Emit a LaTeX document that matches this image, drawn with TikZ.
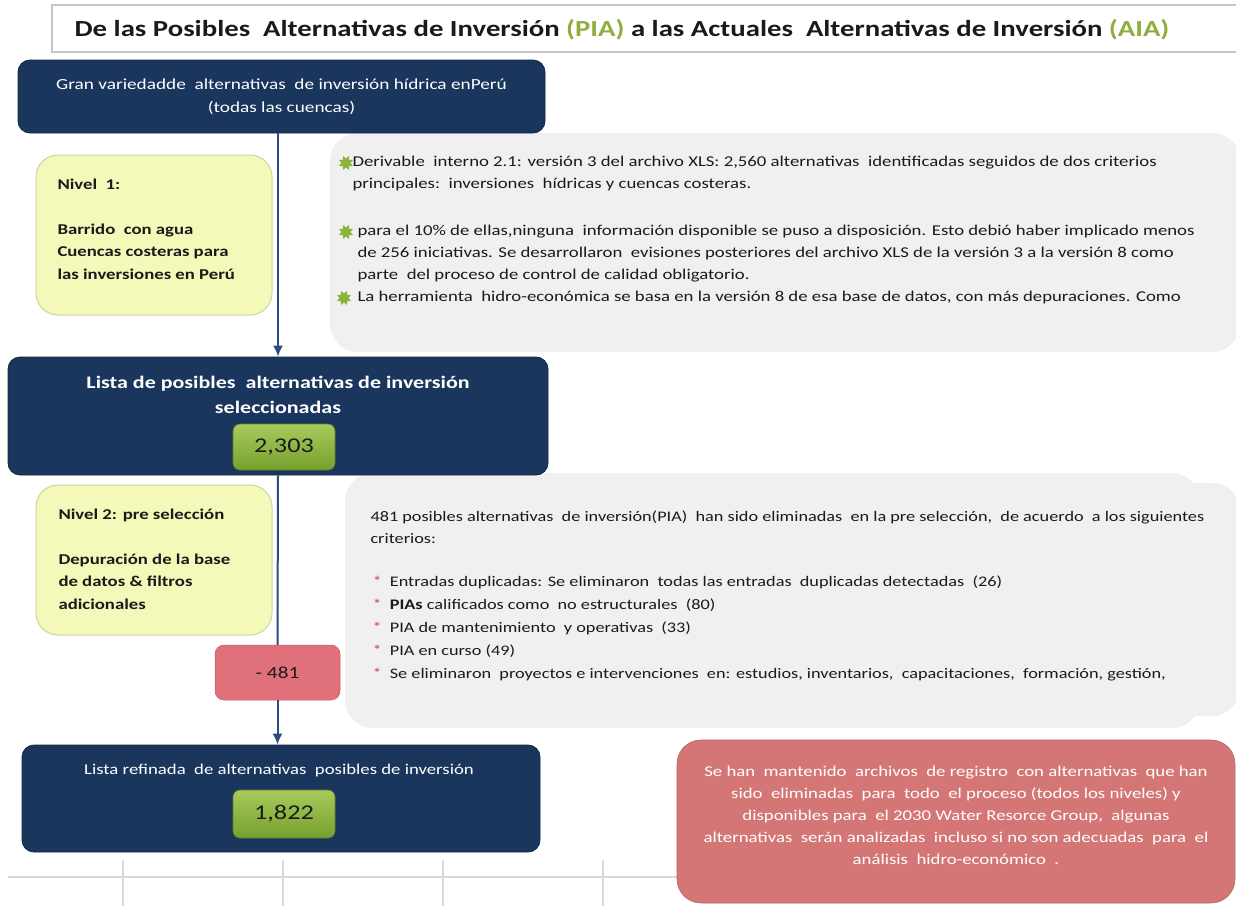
\documentclass[tikz,border=0pt]{standalone}
\usepackage{fontspec}
\setmainfont{Carlito}[FakeStretch=1.25]
\usetikzlibrary{positioning,shapes.geometric,arrows,arrows.meta}

\definecolor{navy}{HTML}{1B365D}
\definecolor{flechaazul}{HTML}{2B4D7E}
\definecolor{amarillo}{HTML}{F4F8B8}
\definecolor{bordeamarillo}{HTML}{CDD6A0}
\definecolor{gris}{HTML}{F0F0F0}
\definecolor{verdetop}{HTML}{A8CB5C}
\definecolor{verdebot}{HTML}{76A02E}
\definecolor{rojo}{HTML}{E0717B}
\definecolor{rojonota}{HTML}{D47676}
\definecolor{verdetitulo}{HTML}{8FAE3E}
\definecolor{texto}{HTML}{1A1A1A}
\definecolor{rejilla}{HTML}{D9D9D9}
\definecolor{vinetaverde}{HTML}{8DB33F}
\definecolor{asterisco}{HTML}{D9404E}

\begin{document}
\begin{tikzpicture}[x=1pt,y=-1pt,line width=1pt,>={Latex[length=11pt,width=10pt]},
  navybox/.style={draw=navy!70!black,line width=0.8pt,fill=navy,rounded corners=12pt,inner sep=0pt,text=white},
  nivel/.style={draw=bordeamarillo,fill=amarillo,rounded corners=22pt,inner sep=0pt,minimum width=236,minimum height=#1},
  nota/.style={fill=gris,rounded corners=28pt,inner sep=0pt},
  cifra/.style={draw=verdebot!80!black,line width=0.6pt,top color=verdetop,bottom color=verdebot,rounded corners=7pt,inner sep=0pt,text=texto,minimum width=102,font=\fontsize{21}{24}\selectfont},
  parrafo/.style={anchor=north west,inner sep=0pt,align=left,text=texto,font=\fontsize{15}{22}\selectfont},
  nivtxt/.style={anchor=north west,inner sep=0pt,align=left,text=texto,font=\bfseries\fontsize{15}{22.5}\selectfont},
  vineta/.style={star,star points=8,star point ratio=0.6,fill=vinetaverde,inner sep=0pt,minimum size=9pt},
  flecha/.style={draw=flechaazul,line width=2pt},
  rejillaln/.style={draw=rejilla,line width=1.2pt}]
\useasboundingbox (0,0) rectangle (1236,906);
\fill[white] (0,0) rectangle (1236,906);

% rejilla del fondo
\coordinate (r0) at (8,877);
\coordinate (r1) at (690,877);
\draw[rejillaln] (r0) -- (r1);
\draw[rejillaln] (123,860) -- (123,906);
\draw[rejillaln] (283,860) -- (283,906);
\draw[rejillaln] (443,860) -- (443,906);
\draw[rejillaln] (603,860) -- (603,906);

% titulo
\node[draw=gray!45,line width=1.5pt,fill=white,minimum width=1193,minimum height=47,inner sep=0pt] (titulo) at (648.5,28.5) {};
\node[font=\bfseries\fontsize{23}{28}\selectfont,text=texto] (titulotxt) at (622,30)
  {De las Posibles\ \ Alternativas de Inversión {\color{verdetitulo}(PIA)} a las Actuales\ \ Alternativas de Inversión {\color{verdetitulo}(AIA)}};

% notas grises
\node[nota,minimum width=910,minimum height=219] (nota1) at (785,242.5) {};
\node[nota,minimum width=855,minimum height=255] (nota2a) at (772.5,600.5) {};
\node[nota,minimum width=880,minimum height=233] (nota2b) at (800,599.5) {};

\node[vineta] (v1) at (346,163) {};
\node[vineta] (v2) at (346,232) {};
\node[vineta] (v3) at (344,298) {};
\node[parrafo] (p1) at (352,156) {Derivable\ \ interno 2.1: versión 3 del archivo XLS: 2,560 alternativas\ \ identificadas seguidos de dos criterios\\
  principales:\ \ inversiones\ \ hídricas y cuencas costeras.};
\node[parrafo] (p2) at (357,225) {para el 10\% de ellas,ninguna\ \ información disponible se puso a disposición. Esto debió haber implicado menos\\
  de 256 iniciativas. Se desarrollaron\ \ evisiones posteriores del archivo XLS de la versión 3 a la versión 8 como\\
  parte\ \ del proceso de control de calidad obligatorio.};
\node[parrafo] (p3) at (357,291) {La herramienta\ \ hidro-económica se basa en la versión 8 de esa base de datos, con más depuraciones. Como};

\node[parrafo,font=\fontsize{14.6}{22}\selectfont] (q1) at (370,510) {481 posibles alternativas\ \ de inversión(PIA)\ \ han sido eliminadas\ \ en la pre selección,\ \ de acuerdo\ \ a los siguientes\\
  criterios:};
\node[parrafo,font=\fontsize{14.6}{23.2}\selectfont] (q2) at (372,575) {{\color{asterisco}*}\ \ Entradas duplicadas: Se eliminaron\ \ todas las entradas\ \ duplicadas detectadas\ \ (26)\\
  {\color{asterisco}*}\ \ \textbf{PIAs} calificados como\ \ no estructurales\ \ (80)\\
  {\color{asterisco}*}\ \ PIA de mantenimiento\ \ y operativas\ \ (33)\\
  {\color{asterisco}*}\ \ PIA en curso (49)\\
  {\color{asterisco}*}\ \ Se eliminaron\ \ proyectos e intervenciones\ \ en: estudios, inventarios,\ \ capacitaciones,\ \ formación, gestión,};

% niveles
\node[nivel=160] (nivel1) at (154,235) {};
\node[nivtxt] (nivel1txt) at (57,178) {Nivel\ \ 1:\\ \\Barrido\ \ con agua\\Cuencas costeras para\\las inversiones en Perú};
\node[nivel=150] (nivel2) at (154,560) {};
\node[nivtxt] (nivel2txt) at (58,508) {Nivel 2: pre selección\\ \\Depuración de la base\\de datos \& filtros\\adicionales};

% cajas azules
\node[navybox,minimum width=527,minimum height=73,align=center,font=\fontsize{15.4}{23}\selectfont] (gran) at (281.5,96.5)
  {Gran variedadde\ \ alternativas\ \ de inversión hídrica enPerú\\(todas las cuencas)};
\node[navybox,minimum width=540,minimum height=118] (lista) at (278,416) {};
\node[align=center,text=white,font=\bfseries\fontsize{17.6}{25}\selectfont] (listatxt) at (278,395)
  {Lista de posibles\ \ alternativas de inversión\\seleccionadas};
\node[cifra,minimum height=46] (c2303) at (284,447) {2,303};
\node[navybox,minimum width=518,minimum height=107] (refinada) at (281,798.5) {};
\node[text=white,font=\fontsize{15}{20}\selectfont] (refinadatxt) at (279,770) {Lista refinada\ \ de alternativas\ \ posibles de inversión};
\node[cifra,minimum height=48] (c1822) at (284,814) {1,822};

% flechas
\draw[flecha,->] (gran.south -| lista.north) -- (lista.north);
\node[draw=rojo!85!black,line width=0.5pt,fill=rojo,rounded corners=9pt,minimum width=125,minimum height=55,text=texto,font=\fontsize{17}{20}\selectfont] (menos) at (277.5,672.5) {- 481};
\draw[flecha] (lista.south) -- (menos.north);
\draw[flecha,->] (menos.south) -- (refinada.north -| menos.south);

% nota roja
\node[draw=rojonota!85!black,line width=0.6pt,fill=rojonota,rounded corners=24pt,minimum width=558,minimum height=163] (registro) at (956,821.5) {};
\node[align=center,text=white,font=\fontsize{15}{22}\selectfont] (registrotxt) at (956,815.5)
  {Se han\ \ mantenido\ \ archivos\ \ de registro\ \ con alternativas\ \ que han\\
   sido\ \ eliminadas\ \ para\ \ todo\ \ el proceso (todos los niveles) y\\
   disponibles para\ \ el 2030 Water Resorce Group,\ \ algunas\\
   alternativas\ \ serán analizadas\ \ incluso si no son adecuadas\ \ para\ \ el\\
   análisis\ \ hidro-económico\ \ .};
\end{tikzpicture}
\end{document}
